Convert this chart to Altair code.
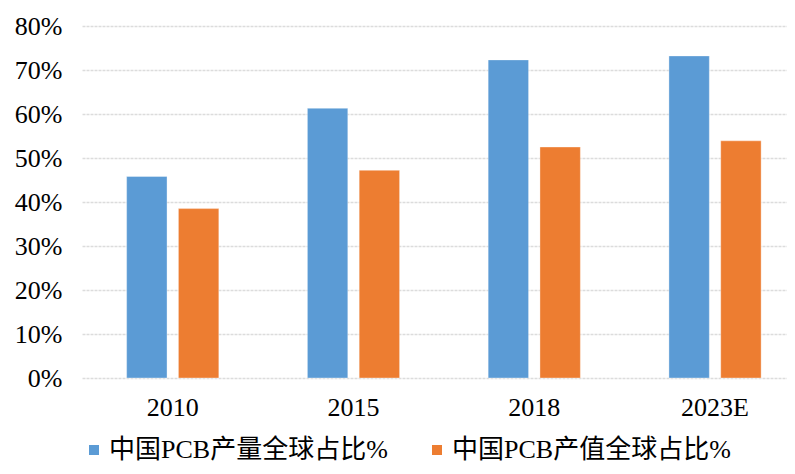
import altair as alt
import pandas as pd

years = ["2010", "2015", "2018", "2023E"]
series_names = ["中国PCB产量全球占比%", "中国PCB产值全球占比%"]
volume_share = [45.8, 61.3, 72.3, 73.2]
value_share = [38.5, 47.2, 52.5, 53.9]
colors = ["#5B9BD5", "#ED7D31"]

rows = []
for i, y in enumerate(years):
    rows.append({"year": y, "series": series_names[0], "value": volume_share[i] / 100})
    rows.append({"year": y, "series": series_names[1], "value": value_share[i] / 100})
df = pd.DataFrame(rows)

FONT = "Liberation Serif"

chart = alt.Chart(df).mark_bar(stroke="white", strokeOpacity=0.35, strokeWidth=1).encode(
    x=alt.X("year:N", sort=years, title=None,
            scale=alt.Scale(paddingInner=0.49, paddingOuter=0.195, align=0.633),
            axis=alt.Axis(labelAngle=0, labelFont=FONT, labelFontSize=26, labelColor="#000000",
                          ticks=False, domain=False, labelPadding=16)),
    xOffset=alt.XOffset("series:N", sort=series_names,
                        scale=alt.Scale(paddingInner=0.22, paddingOuter=0)),
    y=alt.Y("value:Q", title=None,
            scale=alt.Scale(domain=[0, 0.8], nice=False),
            axis=alt.Axis(values=[0, 0.1, 0.2, 0.3, 0.4, 0.5, 0.6, 0.7, 0.8], format=".0%",
                          labelFont=FONT, labelFontSize=26, labelColor="#000000",
                          ticks=False, domain=False, labelPadding=20,
                          grid=True, gridColor="#dcdcdc", gridWidth=1.5, gridDash=[3, 1])),
    color=alt.Color("series:N", sort=series_names,
                    scale=alt.Scale(domain=series_names, range=colors),
                    legend=alt.Legend(title=None, orient="none", legendX=-1, legendY=411,
                                      direction="horizontal", symbolType="square",
                                      symbolSize=100, symbolStrokeWidth=0,
                                      labelFont=FONT + ", Noto Sans CJK SC", labelFontSize=26,
                                      labelColor="#000000", labelOffset=2,
                                      columnPadding=36, labelLimit=400)),
).properties(
    width=705, height=352,
    autosize=alt.AutoSizeParams(type="none"),
    padding={"left": 74, "top": 18, "right": 0, "bottom": 86},
).configure_view(stroke=None)

chart.save("out.html", embed_options={"renderer": "svg", "actions": False})
